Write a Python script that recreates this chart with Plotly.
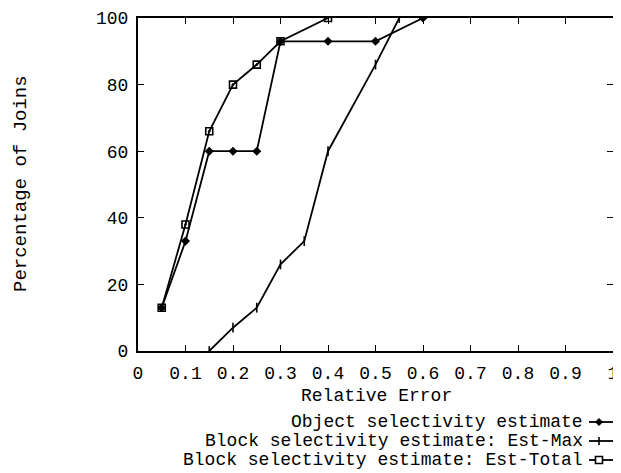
import plotly.graph_objects as go

# Data
obj_x = [0.05, 0.10, 0.15, 0.20, 0.25, 0.30, 0.40, 0.50, 0.60]
obj_y = [13, 33, 60, 60, 60, 93, 93, 93, 100]

max_x = [0.15, 0.20, 0.25, 0.30, 0.35, 0.40, 0.50, 0.55]
max_y = [0, 7, 13, 26, 33, 60, 86, 100]

tot_x = [0.05, 0.10, 0.15, 0.20, 0.25, 0.30, 0.40]
tot_y = [13, 38, 66, 80, 86, 93, 100]

x_ticks = [0, 0.1, 0.2, 0.3, 0.4, 0.5, 0.6, 0.7, 0.8, 0.9, 1]
x_tick_text = ["0", "0.1", "0.2", "0.3", "0.4", "0.5", "0.6", "0.7", "0.8", "0.9", "1"]
y_ticks = [0, 20, 40, 60, 80, 100]

legend_labels = [
    "Object selectivity estimate",
    "Block selectivity estimate: Est-Max",
    "Block selectivity estimate: Est-Total",
]

FONT = "Liberation Mono, DejaVu Sans Mono, monospace"
OFF = 8  # page body margin offset
W, H = 621 - OFF, 473 - OFF
# reference pixel positions (window coords) of the plot area
PX0, PX1, PY0, PY1 = 138, 613, 18, 351
L = PX0 - OFF
T = PY0 - OFF
R = W - (PX1 - OFF)
B = H - (PY1 - OFF)
PW = PX1 - PX0
PH = PY1 - PY0

fig = go.Figure()
fig.add_trace(go.Scatter(x=obj_x, y=obj_y, mode="lines+markers",
                         line=dict(color="black", width=1.8),
                         marker=dict(symbol="diamond", size=7, color="black"),
                         name=legend_labels[0], showlegend=False))
fig.add_trace(go.Scatter(x=max_x, y=max_y, mode="lines+markers",
                         line=dict(color="black", width=1.8),
                         marker=dict(symbol="line-ns", size=7, color="black",
                                     line=dict(color="black", width=1.6)),
                         name=legend_labels[1], showlegend=False))
fig.add_trace(go.Scatter(x=tot_x, y=tot_y, mode="lines+markers",
                         line=dict(color="black", width=1.8),
                         marker=dict(symbol="square-open-dot", size=7, color="black",
                                     line=dict(color="black", width=1.6)),
                         name=legend_labels[2], showlegend=False))

axis_common = dict(showline=True, mirror="ticks", linecolor="black", linewidth=2,
                   ticks="inside", ticklen=6, tickwidth=1.2, tickcolor="black",
                   showgrid=False, zeroline=False, ticklabeloverflow="allow",
                   automargin=False,
                   tickfont=dict(family=FONT, size=18, color="black"))

fig.update_xaxes(range=[0, 1], tickvals=x_ticks, ticktext=x_tick_text,
                 ticklabelstandoff=4, **axis_common)
fig.update_yaxes(range=[0, 100], tickvals=y_ticks, ticklabelstandoff=4,
                 **axis_common)


def px_to_paper_x(px):
    return (px - PX0) / PW


def px_to_paper_y(py):
    return (PY1 - py) / PH


annotations = [
    dict(text="Relative Error", x=px_to_paper_x(376), y=px_to_paper_y(396),
         xref="paper", yref="paper", showarrow=False,
         xanchor="center", yanchor="middle",
         font=dict(family=FONT, size=18, color="black")),
    dict(text="Percentage of Joins", x=px_to_paper_x(21), y=px_to_paper_y(184),
         xref="paper", yref="paper", showarrow=False, textangle=-90,
         xanchor="center", yanchor="middle",
         font=dict(family=FONT, size=19, color="black")),
]
shapes = []
row_y = [422, 441, 460]
for i, lab in enumerate(legend_labels):
    yy = px_to_paper_y(row_y[i])
    annotations.append(dict(text=lab, x=px_to_paper_x(585), y=yy, xref="paper", yref="paper",
                            showarrow=False, xanchor="right", yanchor="middle",
                            font=dict(family=FONT, size=18, color="black")))
    shapes.append(dict(type="line", xref="paper", yref="paper",
                       x0=px_to_paper_x(589), x1=px_to_paper_x(621), y0=yy, y1=yy,
                       line=dict(color="black", width=1.8)))
    mx = 599
    my = row_y[i]
    if i == 0:
        d = 3.5
        path = "M {} {} L {} {} L {} {} L {} {} Z".format(
            px_to_paper_x(mx - d), yy, px_to_paper_x(mx), px_to_paper_y(my - d),
            px_to_paper_x(mx + d), yy, px_to_paper_x(mx), px_to_paper_y(my + d))
        shapes.append(dict(type="path", xref="paper", yref="paper", path=path,
                           fillcolor="black", line=dict(color="black", width=1)))
    elif i == 1:
        shapes.append(dict(type="line", xref="paper", yref="paper",
                           x0=px_to_paper_x(mx), x1=px_to_paper_x(mx),
                           y0=px_to_paper_y(my - 4), y1=px_to_paper_y(my + 4),
                           line=dict(color="black", width=1.6)))
    else:
        d = 3.5
        shapes.append(dict(type="rect", xref="paper", yref="paper",
                           x0=px_to_paper_x(mx - d), x1=px_to_paper_x(mx + d),
                           y0=px_to_paper_y(my - d), y1=px_to_paper_y(my + d),
                           fillcolor="white", line=dict(color="black", width=1.6)))

fig.update_layout(width=W, height=H, margin=dict(l=L, r=R, t=T, b=B),
                  paper_bgcolor="white", plot_bgcolor="white",
                  font=dict(family=FONT, color="black"),
                  annotations=annotations, shapes=shapes, showlegend=False)

fig.write_html("out.html")
